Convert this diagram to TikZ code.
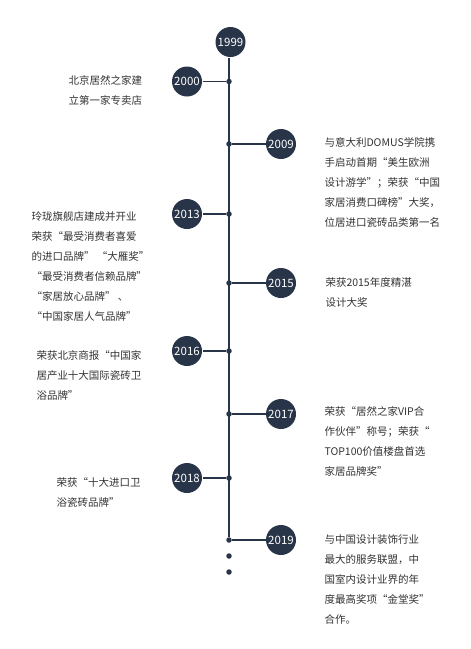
\documentclass[tikz,border=0pt]{standalone}
\usepackage{fontspec}
\newfontfamily\cjk{Noto Sans CJK SC}
\usetikzlibrary{positioning}
\definecolor{cnavy}{HTML}{283447}
\definecolor{ctext}{HTML}{333333}
\tikzset{
  every picture/.style={line width=1pt},
  year/.style={circle, fill=cnavy, text=white, minimum size=30pt, inner sep=0pt, font=\cjk\fontsize{11.5}{12}\selectfont},
  dot/.style={circle, fill=cnavy, minimum size=5.5pt, inner sep=0pt},
  link/.style={draw=cnavy, line width=1.1pt},
  story/.style={text=ctext, align=left, inner sep=0pt, anchor=north west, font=\cjk\fontsize{10.5}{20}\selectfont},
}

\begin{document}
\begin{tikzpicture}[x=1pt, y=-1pt]
  \useasboundingbox[fill=white] (0,0) rectangle (471,649);
  % spine and years
  \node[year] (y1999) at (230.5,42) {1999};
  \foreach \yr/\cx/\y in {2000/187/81.5, 2009/281/144, 2013/187/214, 2015/281/283,
                          2016/187/351, 2017/281/414, 2018/187/478, 2019/281/540} {
    \node[dot] (d\yr) at (229,\y) {};
    \node[year] (y\yr) at (\cx,\y) {\yr};
    \draw[link] (d\yr) -- (y\yr);
  }
  \draw[link] (y1999.south -| d2000) -- (d2019);
  \node[dot] (e1) at (229,556) {};
  \node[dot] (e2) at (229,572) {};
  % left side
  \node[story] (t2000) at (68,75.5) {北京居然之家建\\立第一家专卖店};
  \node[story] (t2013) at (31,211.5) {玲珑旗舰店建成并开业\\荣获“最受消费者喜爱\\的进口品牌” “大雁奖”\\“最受消费者信赖品牌”\\“家居放心品牌” 、\\“中国家居人气品牌”};
  \node[story] (t2016) at (36,350.5) {荣获北京商报“中国家\\居产业十大国际瓷砖卫\\浴品牌”};
  \node[story] (t2018) at (56,477.5) {荣获“十大进口卫\\浴瓷砖品牌”};
  % right side
  \node[story] (t2009) at (324,137.5) {与意大利DOMUS学院携\\手启动首期“美生欧洲\\设计游学”；荣获“中国\\家居消费口碑榜”大奖，\\位居进口瓷砖品类第一名};
  \node[story] (t2015) at (325,277.5) {荣获2015年度精湛\\设计大奖};
  \node[story] (t2017) at (324,406.5) {荣获“居然之家VIP合\\作伙伴”称号；荣获“\\TOP100价值楼盘首选\\家居品牌奖”};
  \node[story] (t2019) at (324,534.5) {与中国设计装饰行业\\最大的服务联盟，中\\国室内设计业界的年\\度最高奖项“金堂奖”\\合作。};
\end{tikzpicture}
\end{document}
